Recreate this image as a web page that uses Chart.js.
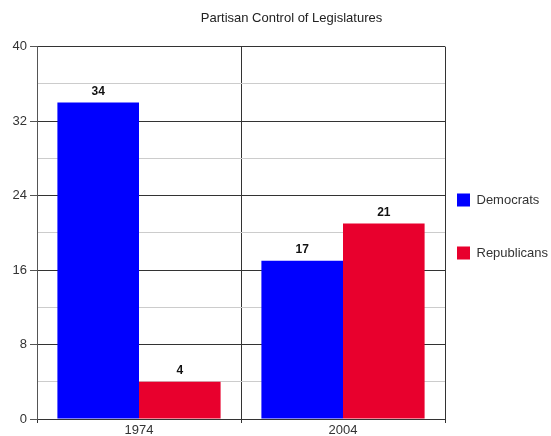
<!DOCTYPE html>
<html>
<head>
<meta charset="utf-8">
<script src="https://cdn.jsdelivr.net/npm/chart.js@4"></script>
<style>
  html, body { margin: 0; padding: 0; background: #fff; }
  canvas { display: block; }
</style>
</head>
<body>
<canvas id="c" width="551" height="436"></canvas>
<script>
const categories = ['1974', '2004'];
const democrats = [34, 17];
const republicans = [4, 21];
const seriesNames = ['Democrats', 'Republicans'];
const yMin = 0, yMax = 40, yStep = 4, yLabelStep = 8;
const chartTitle = 'Partisan Control of Legislatures';

Chart.defaults.font.family = '"Liberation Sans", Arial, sans-serif';
Chart.defaults.color = '#333';

const valueLabels = {
  id: 'valueLabels',
  afterDatasetsDraw(chart) {
    const ctx = chart.ctx;
    ctx.save();
    ctx.font = 'bold 12px "Liberation Sans", Arial, sans-serif';
    ctx.fillStyle = '#111';
    ctx.textAlign = 'center';
    ctx.textBaseline = 'bottom';
    chart.data.datasets.forEach((ds, i) => {
      const meta = chart.getDatasetMeta(i);
      meta.data.forEach((el, j) => {
        ctx.fillText(String(ds.data[j]), el.x, el.y - 5);
      });
    });
    ctx.restore();
  }
};

const shiftTitle = {
  id: 'shiftTitle',
  afterLayout(chart) {
    const t = chart.titleBlock;
    if (t) { t.left += 16; t.right += 16; }
  }
};

new Chart(document.getElementById('c'), {
  type: 'bar',
  data: {
    labels: categories,
    datasets: [
      { label: seriesNames[0], data: democrats, backgroundColor: '#0000ff', borderWidth: 0 },
      { label: seriesNames[1], data: republicans, backgroundColor: '#e8002d', borderWidth: 0 }
    ]
  },
  options: {
    responsive: false,
    animation: false,
    layout: { padding: { left: 0, right: 0, top: 0, bottom: 0 } },
    datasets: { bar: { categoryPercentage: 0.8, barPercentage: 1.0 } },
    plugins: {
      title: {
        display: true,
        text: chartTitle,
        color: '#222',
        font: { size: 13, weight: 'normal' },
        padding: { top: 11, bottom: 20 }
      },
      legend: {
        position: 'right',
        fullSize: false,
        maxWidth: 106,
        title: { display: true, text: ' ', padding: 0, font: { size: 13 } },
        labels: {
          boxWidth: 13,
          boxHeight: 13,
          padding: 12,
          color: '#222',
          font: { size: 13, lineHeight: '41px' },
          generateLabels(chart) {
            return chart.data.datasets.map((ds, i) => ({
              text: [ds.label],
              fillStyle: ds.backgroundColor,
              strokeStyle: ds.backgroundColor,
              lineWidth: 0,
              hidden: false,
              datasetIndex: i
            }));
          }
        }
      },
      tooltip: { enabled: false }
    },
    scales: {
      x: {
        grid: { offset: true, color: '#333', tickLength: 4, drawOnChartArea: true },
        border: { display: true, color: '#333' },
        ticks: { padding: 0, font: { size: 13 }, color: '#333' },
        afterFit(scale) { scale.height = 17; }
      },
      y: {
        min: yMin,
        max: yMax,
        grid: {
          color: (c) => (c.tick && c.tick.value % yLabelStep === 0) ? '#333' : '#cccccc',
          tickColor: (c) => (c.tick && c.tick.value % yLabelStep === 0) ? '#555' : 'rgba(0,0,0,0)',
          tickLength: 7
        },
        border: { display: true, color: '#555' },
        ticks: {
          stepSize: yStep,
          padding: 3,
          font: { size: 13 },
          color: '#333',
          callback: (v) => (v % yLabelStep === 0 ? String(v) : '')
        },
        afterFit(scale) { scale.width = 37; }
      }
    }
  },
  plugins: [valueLabels, shiftTitle]
});
</script>
</body>
</html>
